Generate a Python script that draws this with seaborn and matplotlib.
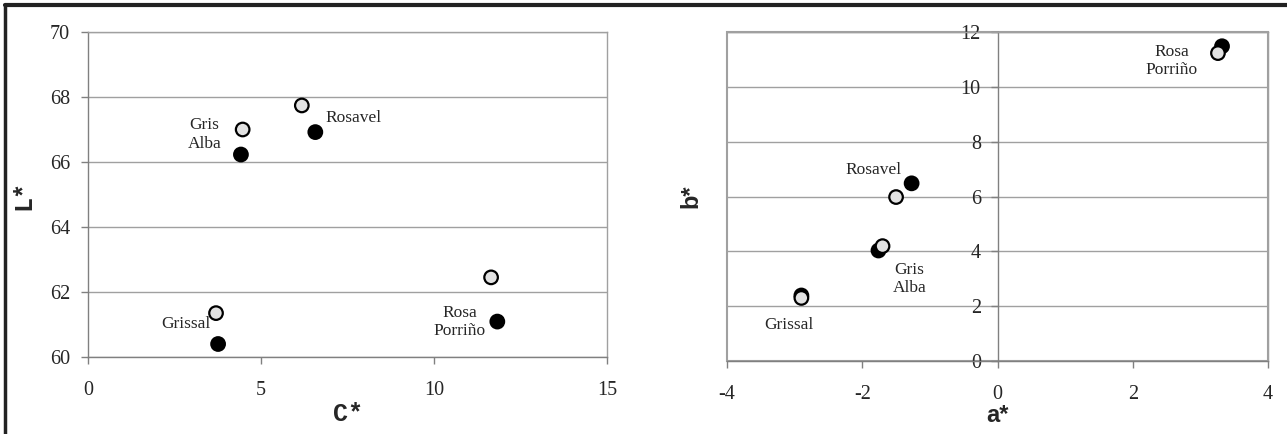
import matplotlib
matplotlib.use("Agg")
import matplotlib.pyplot as plt
import seaborn as sns
import pandas as pd
from matplotlib.lines import Line2D

stones = ["Grissal", "Gris Alba", "Rosavel", "Rosa Porriño"]
label_text = ["Grissal", "Gris\nAlba", "Rosavel", "Rosa\nPorriño"]

# series 1 (open markers) and series 2 (filled markers)
C_open = [3.70, 4.47, 6.18, 11.65]
L_open = [61.35, 67.00, 67.74, 62.45]
C_fill = [3.76, 4.42, 6.57, 11.83]
L_fill = [60.40, 66.23, 66.92, 61.09]

a_open = [-2.90, -1.70, -1.50, 3.26]
b_open = [2.30, 4.19, 5.98, 11.23]
a_fill = [-2.90, -1.76, -1.27, 3.32]
b_fill = [2.39, 4.03, 6.48, 11.48]

# label anchor positions (data coords)
lab_C = [2.84, 3.37, 7.67, 10.75]
lab_L = [61.03, 66.85, 67.35, 61.07]
lab_a = [-3.08, -1.30, -1.84, 2.58]
lab_b = [1.32, 2.99, 6.98, 10.95]

sns.set_style("white")
plt.rcParams["font.family"] = ["Liberation Serif", "DejaVu Serif"]
plt.rcParams["axes.unicode_minus"] = False

fig = plt.figure(figsize=(12.87, 4.34), dpi=100)
ax1 = fig.add_axes([88/1287, 1-357/434, (607-88)/1287, (357-32)/434])
ax2 = fig.add_axes([727/1287, 1-361/434, (1268-727)/1287, (361-32)/434])

df1 = pd.DataFrame({"x": C_fill + C_open, "y": L_fill + L_open,
                    "s": ["fill"]*4 + ["open"]*4})
df2 = pd.DataFrame({"x": a_fill + a_open, "y": b_fill + b_open,
                    "s": ["fill"]*4 + ["open"]*4})
pal = {"fill": "black", "open": "#e2e2e2"}

for ax, df in ((ax1, df1), (ax2, df2)):
    sns.scatterplot(data=df, x="x", y="y", hue="s", palette=pal, ax=ax,
                    s=95, edgecolor="black", linewidth=1.6, legend=False, zorder=5)

grid_col = "#a0a0a0"
# ---- left panel
ax1.set_xlim(0, 15)
ax1.set_ylim(60, 70)
ax1.set_xticks([0, 5, 10, 15])
ax1.set_yticks([60, 62, 64, 66, 68, 70])
ax1.yaxis.grid(True, color=grid_col, lw=1)
ax1.xaxis.grid(False)
for sp in ax1.spines.values():
    sp.set_color(grid_col)
    sp.set_linewidth(1)
ax1.spines["left"].set_color("#808080")
ax1.spines["bottom"].set_color("#808080")
ax1.tick_params(axis="both", direction="out", length=5, width=1, color="#808080",
                labelsize=14.5, left=True, bottom=True)
ax1.tick_params(axis="y", pad=8)
ax1.tick_params(axis="x", pad=12)
ax1.set_xlabel("C*", fontsize=18, fontweight="bold", family="Liberation Mono", labelpad=2)
ax1.set_ylabel("L*", fontsize=18, fontweight="bold", family="Liberation Mono", labelpad=10)
for t, x, y in zip(label_text, lab_C, lab_L):
    ax1.text(x, y, t, ha="center", va="center", fontsize=12.5, linespacing=1.2)

# ---- right panel
ax2.set_xlim(-4, 4)
ax2.set_ylim(0, 12)
ax2.set_xticks([-4, -2, 0, 2, 4])
ax2.set_yticks([0, 2, 4, 6, 8, 10, 12])
ax2.yaxis.grid(True, color=grid_col, lw=1)
ax2.xaxis.grid(False)
ax2.patch.set_edgecolor(grid_col)
ax2.patch.set_linewidth(1.5)
for sp in ax2.spines.values():
    sp.set_color(grid_col)
    sp.set_linewidth(1)
ax2.spines["left"].set_position(("data", 0))
ax2.spines["left"].set_color("#808080")
ax2.spines["bottom"].set_color("#808080")
ax2.tick_params(axis="both", direction="out", length=5, width=1, color="#808080",
                labelsize=14.5, left=True, bottom=True)
ax2.tick_params(axis="y", pad=7)
ax2.tick_params(axis="x", pad=12)
ax2.set_xlabel("a*", fontsize=17, fontweight="bold", family="Liberation Sans", labelpad=0)
ax2.set_ylabel("b*", fontsize=17, fontweight="bold", family="Liberation Sans")
ax2.yaxis.set_label_coords(-0.045, 0.5)
for t, x, y in zip(label_text, lab_a, lab_b):
    ax2.text(x, y, t, ha="center", va="center", fontsize=12.5, linespacing=1.2)

# figure frame (top and left edges visible)
fig.add_artist(Line2D([5/1287, 1], [1-5/434, 1-5/434], transform=fig.transFigure,
                      color="#222222", lw=3))
fig.add_artist(Line2D([5/1287, 5/1287], [0, 1-5/434], transform=fig.transFigure,
                      color="#222222", lw=2.5))

fig.savefig("out.png", dpi=100)
